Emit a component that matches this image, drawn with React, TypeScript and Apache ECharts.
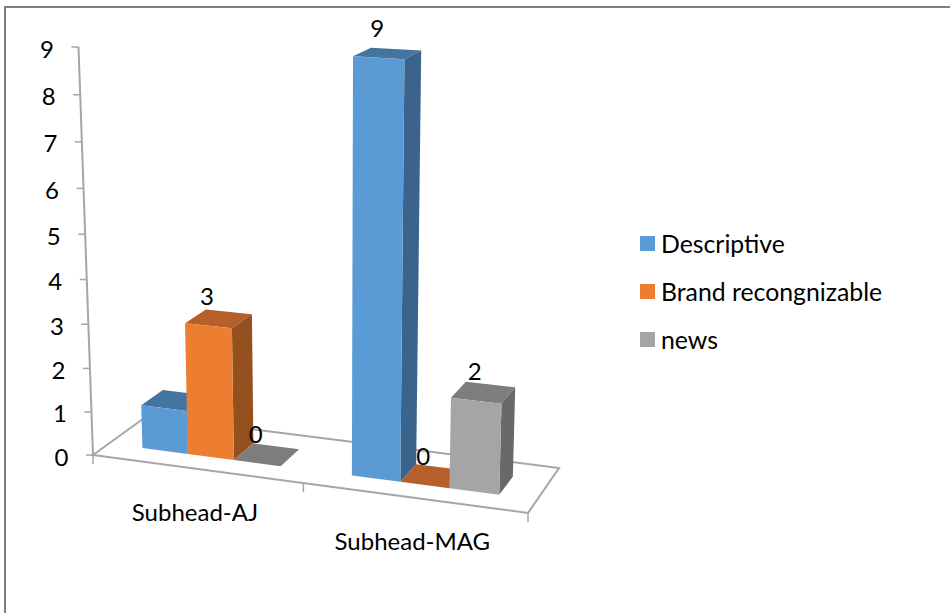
import React, { useEffect, useRef } from "react";
import * as echarts from "echarts";

const categories = ["Subhead-AJ", "Subhead-MAG"];
const valueTicks = [0, 1, 2, 3, 4, 5, 6, 7, 8, 9];
const seriesNames = ["Descriptive", "Brand recongnizable", "news"];
const descriptive = [1, 9];
const brand = [3, 0];
const news = [0, 2];
const seriesValues = [descriptive, brand, news];
const descriptiveLabelled = [0, 1];
const brandLabelled = [1, 1];
const newsLabelled = [1, 1];
const labelled = [descriptiveLabelled, brandLabelled, newsLabelled];
const frontColors = ["#5b9bd5", "#ed7d31", "#a5a5a5"];
const topColors = ["#44759f", "#b5602a", "#7d7d7d"];
const sideColors = ["#3a648c", "#95501f", "#696969"];

const FONT = "Lato";
const FONT_SIZE = 24;
const AXIS = "#a6a6a6";
const G = { left: 93, top: 47, width: 435, height: 408 };
const FRONT_V = 0.28;
const BACK_V = 0.69;
const K = 0.0568;

// Floor homography: unit square -> skewed floor
function floor(u: number, v: number) {
  const den = 1 - 0.0633 * u + 0.0606 * v;
  return [(401.6 * u + 62.9 * v + 93) / den, (25.5 * u - 13.8 * v + 455) / den];
}
// Raise a floor point by a fraction t of the axis height
function raise(p: number[], t: number) {
  const g = (1 / (1 - K * t) - 1) / (1 / (1 - K) - 1);
  const h9 = 408 + 0.517 * (p[1] - 455) + 0.00256 * (p[0] - 93);
  const rise = h9 * g;
  const vy = 7235;
  return [334 + (p[0] - 334) * (1 + rise / (vy - p[1])), p[1] - rise];
}
const uOf = (px: number) => (px - G.left) / G.width;
const tOf = (py: number) => (G.top + G.height - py) / G.height;

function barGeometry(api: any, seriesIdx: number) {
  const cat = api.value(0);
  const val = api.value(1);
  const c = api.coord([cat, val]);
  const band = api.size([1, 0])[0];
  const w = band / 4.5;
  const x0 = c[0] - band / 2 + w * 0.75 + w * seriesIdx;
  const u0 = uOf(x0);
  const u1 = uOf(x0 + w);
  const t = tOf(c[1]);
  return { u0, u1, t };
}

function barRender(seriesIdx: number) {
  return (_: any, api: any) => {
    const { u0, u1, t } = barGeometry(api, seriesIdx);
    const fl = floor(u0, FRONT_V);
    const fr = floor(u1, FRONT_V);
    const br = floor(u1, BACK_V);
    const bl = floor(u0, BACK_V);
    const tfl = raise(fl, t);
    const tfr = raise(fr, t);
    const tbr = raise(br, t);
    const tbl = raise(bl, t);
    const children: any[] = [
      { type: "polygon", shape: { points: [tfl, tfr, tbr, tbl] }, style: { fill: topColors[seriesIdx] } },
    ];
    if (t > 0) {
      children.push(
        { type: "polygon", shape: { points: [fr, br, tbr, tfr] }, style: { fill: sideColors[seriesIdx] } },
        { type: "polygon", shape: { points: [fl, fr, tfr, tfl] }, style: { fill: frontColors[seriesIdx] } },
      );
    }
    return { type: "group", children };
  };
}

function valueLabelRender(_: any, api: any) {
  const seriesIdx = api.value(2);
  if (!api.value(3)) return { type: "group", children: [] };
  const { u0, u1, t } = barGeometry(api, seriesIdx);
  const top = raise(floor((u0 + u1) / 2, FRONT_V), t);
  return {
    type: "text",
    x: top[0] - 1.5,
    y: top[1] - 30,
    style: {
      text: String(api.value(1)),
      font: `${FONT_SIZE}px ${FONT}`,
      fill: "#000",
      align: "center",
      verticalAlign: "middle",
    },
  };
}

function tickRender(_: any, api: any) {
  const v = api.value(0);
  const c = api.coord([0, v]);
  const p = raise(floor(0, 0), tOf(c[1]));
  return {
    type: "group",
    children: [
      { type: "line", shape: { x1: p[0] - 7, y1: p[1], x2: p[0], y2: p[1] }, style: { stroke: AXIS, lineWidth: 1.5 } },
      {
        type: "text",
        x: p[0] - 31.5,
        y: p[1] + 1,
        style: { text: String(v), font: `${FONT_SIZE}px ${FONT}`, fill: "#000", align: "center", verticalAlign: "middle" },
      },
    ],
  };
}

function floorRender(_: any, api: any) {
  const cat = api.value(0);
  const c = api.coord([cat, 0]);
  const band = api.size([1, 0])[0];
  const mid = floor(uOf(c[0]), 0);
  const children: any[] = [
    {
      type: "text",
      x: mid[0] - 1.5,
      y: mid[1] + 43,
      style: { text: categories[cat], font: `${FONT_SIZE}px ${FONT}`, fill: "#000", align: "center", verticalAlign: "middle" },
    },
  ];
  const right = floor(uOf(c[0] + band / 2), 0);
  children.push({
    type: "line",
    shape: { x1: right[0], y1: right[1], x2: right[0], y2: right[1] + 9 },
    style: { stroke: AXIS, lineWidth: 1.5 },
  });
  if (cat === 0) {
    const left = floor(0, 0);
    const bl = floor(0, 1);
    const br = floor(1, 1);
    const fr = floor(1, 0);
    const topAxis = raise(left, 1);
    children.push(
      { type: "line", shape: { x1: left[0], y1: left[1], x2: left[0], y2: left[1] + 9 }, style: { stroke: AXIS, lineWidth: 1.5 } },
      { type: "polygon", shape: { points: [left, fr, br, bl] }, style: { fill: "none", stroke: AXIS, lineWidth: 2 } },
      { type: "line", shape: { x1: left[0], y1: left[1], x2: topAxis[0], y2: topAxis[1] }, style: { stroke: AXIS, lineWidth: 2 } },
    );
  }
  return { type: "group", children };
}

export default function App() {
  const ref = useRef<HTMLDivElement>(null);
  useEffect(() => {
    document.body.style.margin = "0";
    const chart = echarts.init(ref.current!, null, { renderer: "svg" });
    const labelData: number[][] = [];
    seriesValues.forEach((vals, s) => vals.forEach((v, c) => labelData.push([c, v, s, labelled[s][c]])));
    chart.setOption({
      animation: false,
      backgroundColor: "#fff",
      grid: { left: G.left, top: G.top, width: G.width, height: G.height },
      xAxis: { type: "category", data: categories, show: false },
      yAxis: { type: "value", min: 0, max: 9, interval: 1, show: false },
      legend: {
        orient: "vertical",
        left: 640,
        top: 231,
        padding: 0,
        itemWidth: 15,
        itemHeight: 15,
        itemGap: 23,
        icon: "rect",
        data: seriesNames,
        selectedMode: false,
        textStyle: { fontFamily: FONT, fontSize: 24.8, color: "#000", padding: [0, 0, 0, 1], lineHeight: 24 },
      },
      graphic: [
        {
          type: "rect",
          x: 5,
          y: 7,
          shape: { x: 0, y: 0, width: 1100, height: 800 },
          style: { fill: "none", stroke: "#7f7f7f", lineWidth: 2 },
          silent: true,
        },
      ],
      series: [
        {
          type: "custom",
          name: "floor",
          z: 1,
          silent: true,
          data: categories.map((_, i) => [i, 0]),
          encode: { x: 0, y: 1 },
          renderItem: floorRender,
        },
        {
          type: "custom",
          name: "ticks",
          z: 1,
          silent: true,
          data: valueTicks.map((v) => [v]),
          encode: { y: 0 },
          renderItem: tickRender,
        },
        ...seriesNames.map((name, s) => ({
          type: "custom",
          name,
          z: 2 + s,
          silent: true,
          itemStyle: { color: frontColors[s] },
          data: seriesValues[s].map((v, c) => [c, v]),
          encode: { x: 0, y: 1 },
          renderItem: barRender(s),
        })),
        {
          type: "custom",
          name: "values",
          z: 6,
          silent: true,
          data: labelData,
          encode: { x: 0, y: 1 },
          renderItem: valueLabelRender,
        },
      ],
    });
    return () => chart.dispose();
  }, []);
  return <div ref={ref} style={{ width: 950, height: 613 }} />;
}
